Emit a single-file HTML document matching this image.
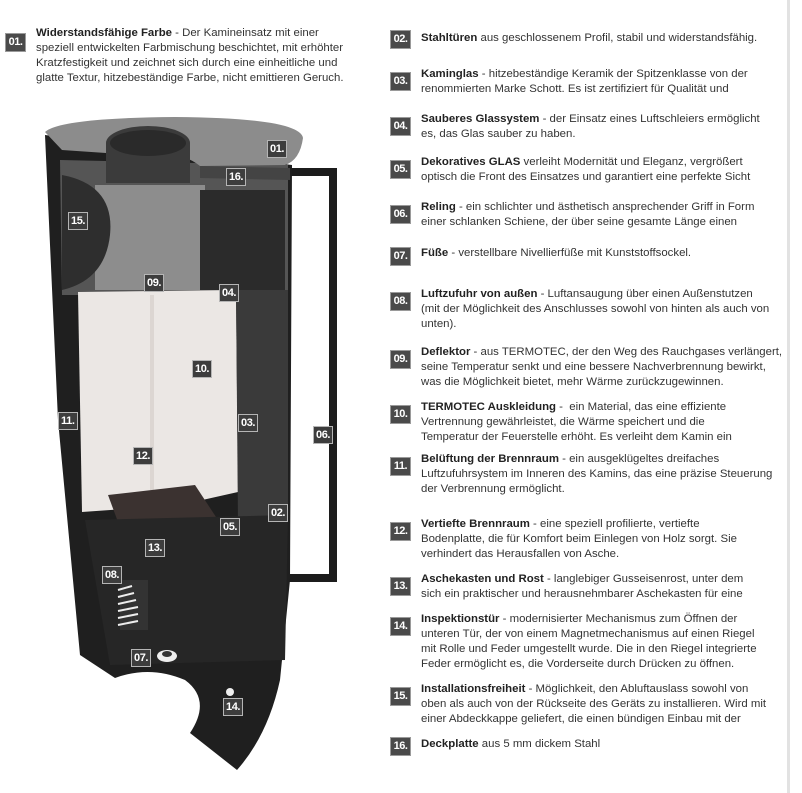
<!DOCTYPE html>
<html><head><meta charset="utf-8">
<style>
html,body{margin:0;padding:0;background:#fff;}
body{width:802px;height:793px;position:relative;overflow:hidden;font-family:"Liberation Sans","DejaVu Sans",sans-serif;color:#333;}
.it{position:absolute;font-size:11.4px;line-height:15px;white-space:nowrap;}
.it b{color:#222;}
.bd{position:absolute;width:19px;height:17px;background:#4a4a4a;border:1px solid #9a9a9a;color:#fff;font-weight:bold;font-size:11px;line-height:17px;text-align:center;letter-spacing:-0.5px;}
.lb{position:absolute;height:16px;padding:0 2px;background:#3d3d3d;border:1px solid #b5b5b5;color:#fff;font-weight:bold;font-size:11px;line-height:16px;letter-spacing:-0.4px;}
.vl{position:absolute;left:787px;top:0;width:3px;height:793px;background:#e2e2e2;}
</style></head><body>
<div class="vl"></div>

<svg width="802" height="793" style="position:absolute;left:0;top:0">
  <!-- handle -->
  <path d="M288,172 L333,172 L333,578 L288,578" fill="none" stroke="#1c1c1c" stroke-width="8"/>
  <!-- body -->
  <path d="M45,135 L58,420 L80,655 L115,678 Q150,665 185,680 Q212,700 190,733 L237,770 Q268,735 280,680 L290,580 L292,165 Z" fill="#1f1f1f"/>
  <!-- upper interior -->
  <path d="M60,160 L288,165 L288,295 L62,295 Z" fill="#555"/>
  <rect x="95" y="185" width="110" height="105" fill="#8d8d8d"/>
  <rect x="200" y="190" width="85" height="100" fill="#2b2b2b"/>
  <path d="M62,175 Q115,185 110,235 Q105,280 62,290 Z" fill="#2e2e2e"/>
  <!-- firebox -->
  <path d="M78,292 L236,290 L238,492 L180,505 L82,512 Z" fill="#ebe7e4"/>
  <rect x="150" y="295" width="4" height="200" fill="#dcd6d2"/>
  <!-- glass right -->
  <path d="M236,290 L288,290 L288,520 L238,525 Z" fill="#3a3a3a"/>
  <!-- grate -->
  <path d="M108,495 L195,485 L218,520 L118,522 Z" fill="#3b3230"/>
  <!-- lower dark -->
  <path d="M85,520 L288,515 L285,660 L110,665 Z" fill="#262626"/>
  <rect x="120" y="580" width="28" height="50" fill="#333"/>
  <g stroke="#eee" stroke-width="2">
    <line x1="118" y1="590" x2="132" y2="586"/><line x1="118" y1="597" x2="134" y2="593"/>
    <line x1="118" y1="604" x2="136" y2="600"/><line x1="118" y1="611" x2="138" y2="607"/>
    <line x1="118" y1="618" x2="138" y2="614"/><line x1="118" y1="625" x2="138" y2="621"/>
  </g>
  <ellipse cx="167" cy="656" rx="10" ry="6" fill="#eee"/>
  <ellipse cx="167" cy="654" rx="5" ry="3" fill="#333"/>
  <circle cx="230" cy="692" r="4" fill="#eee"/>
  <!-- top plate -->
  <path d="M45,132 Q60,118 175,117 Q300,118 303,138 Q300,160 285,165 L200,166 Q180,150 150,156 L62,150 Z" fill="#8c8c8c"/>
  <ellipse cx="148" cy="143" rx="42" ry="17" fill="#3b3b3b"/>
  <rect x="106" y="143" width="84" height="40" fill="#3b3b3b"/>
  <ellipse cx="148" cy="143" rx="38" ry="13" fill="#2a2a2a"/>
  <path d="M200,166 L290,168 L290,180 L200,178 Z" fill="#444"/>
</svg>

<div class="lb" style="left:267px;top:140px">01.</div>
<div class="lb" style="left:226px;top:168px">16.</div>
<div class="lb" style="left:68px;top:212px">15.</div>
<div class="lb" style="left:144px;top:274px">09.</div>
<div class="lb" style="left:219px;top:284px">04.</div>
<div class="lb" style="left:192px;top:360px">10.</div>
<div class="lb" style="left:58px;top:412px">11.</div>
<div class="lb" style="left:238px;top:414px">03.</div>
<div class="lb" style="left:313px;top:426px">06.</div>
<div class="lb" style="left:133px;top:447px">12.</div>
<div class="lb" style="left:268px;top:504px">02.</div>
<div class="lb" style="left:220px;top:518px">05.</div>
<div class="lb" style="left:145px;top:539px">13.</div>
<div class="lb" style="left:102px;top:566px">08.</div>
<div class="lb" style="left:131px;top:649px">07.</div>
<div class="lb" style="left:223px;top:698px">14.</div>

<div class="bd" style="left:5px;top:33px">01.</div>
<div class="it" style="left:36px;top:26px"><b>Widerstandsfähige Farbe</b> - Der Kamineinsatz mit einer<br>speziell entwickelten Farbmischung beschichtet, mit erhöhter<br>Kratzfestigkeit und zeichnet sich durch eine einheitliche und<br>glatte Textur, hitzebeständige Farbe, nicht emittieren Geruch.</div>

<div class="bd" style="left:390px;top:30px">02.</div>
<div class="it" style="left:421px;top:31px"><b>Stahltüren</b> aus geschlossenem Profil, stabil und widerstandsfähig.</div>

<div class="bd" style="left:390px;top:72px">03.</div>
<div class="it" style="left:421px;top:67px"><b>Kaminglas</b> - hitzebeständige Keramik der Spitzenklasse von der<br>renommierten Marke Schott. Es ist zertifiziert für Qualität und</div>

<div class="bd" style="left:390px;top:117px">04.</div>
<div class="it" style="left:421px;top:112px"><b>Sauberes Glassystem</b> - der Einsatz eines Luftschleiers ermöglicht<br>es, das Glas sauber zu haben.</div>

<div class="bd" style="left:390px;top:160px">05.</div>
<div class="it" style="left:421px;top:155px"><b>Dekoratives GLAS</b> verleiht Modernität und Eleganz, vergrößert<br>optisch die Front des Einsatzes und garantiert eine perfekte Sicht</div>

<div class="bd" style="left:390px;top:205px">06.</div>
<div class="it" style="left:421px;top:200px"><b>Reling</b> - ein schlichter und ästhetisch ansprechender Griff in Form<br>einer schlanken Schiene, der über seine gesamte Länge einen</div>

<div class="bd" style="left:390px;top:247px">07.</div>
<div class="it" style="left:421px;top:246px"><b>Füße</b> - verstellbare Nivellierfüße mit Kunststoffsockel.</div>

<div class="bd" style="left:390px;top:292px">08.</div>
<div class="it" style="left:421px;top:287px"><b>Luftzufuhr von außen</b> - Luftansaugung über einen Außenstutzen<br>(mit der Möglichkeit des Anschlusses sowohl von hinten als auch von<br>unten).</div>

<div class="bd" style="left:390px;top:350px">09.</div>
<div class="it" style="left:421px;top:345px"><b>Deflektor</b> - aus TERMOTEC, der den Weg des Rauchgases verlängert,<br>seine Temperatur senkt und eine bessere Nachverbrennung bewirkt,<br>was die Möglichkeit bietet, mehr Wärme zurückzugewinnen.</div>

<div class="bd" style="left:390px;top:405px">10.</div>
<div class="it" style="left:421px;top:400px"><b>TERMOTEC Auskleidung</b> -&nbsp; ein Material, das eine effiziente<br>Vertrennung gewährleistet, die Wärme speichert und die<br>Temperatur der Feuerstelle erhöht. Es verleiht dem Kamin ein</div>

<div class="bd" style="left:390px;top:457px">11.</div>
<div class="it" style="left:421px;top:452px"><b>Belüftung der Brennraum</b> - ein ausgeklügeltes dreifaches<br>Luftzufuhrsystem im Inneren des Kamins, das eine präzise Steuerung<br>der Verbrennung ermöglicht.</div>

<div class="bd" style="left:390px;top:522px">12.</div>
<div class="it" style="left:421px;top:517px"><b>Vertiefte Brennraum</b> - eine speziell profilierte, vertiefte<br>Bodenplatte, die für Komfort beim Einlegen von Holz sorgt. Sie<br>verhindert das Herausfallen von Asche.</div>

<div class="bd" style="left:390px;top:577px">13.</div>
<div class="it" style="left:421px;top:572px"><b>Aschekasten und Rost</b> - langlebiger Gusseisenrost, unter dem<br>sich ein praktischer und herausnehmbarer Aschekasten für eine</div>

<div class="bd" style="left:390px;top:617px">14.</div>
<div class="it" style="left:421px;top:612px"><b>Inspektionstür</b> - modernisierter Mechanismus zum Öffnen der<br>unteren Tür, der von einem Magnetmechanismus auf einen Riegel<br>mit Rolle und Feder umgestellt wurde. Die in den Riegel integrierte<br>Feder ermöglicht es, die Vorderseite durch Drücken zu öffnen.</div>

<div class="bd" style="left:390px;top:687px">15.</div>
<div class="it" style="left:421px;top:682px"><b>Installationsfreiheit</b> - Möglichkeit, den Abluftauslass sowohl von<br>oben als auch von der Rückseite des Geräts zu installieren. Wird mit<br>einer Abdeckkappe geliefert, die einen bündigen Einbau mit der</div>

<div class="bd" style="left:390px;top:737px">16.</div>
<div class="it" style="left:421px;top:737px"><b>Deckplatte</b> aus 5 mm dickem Stahl</div>
</body></html>
